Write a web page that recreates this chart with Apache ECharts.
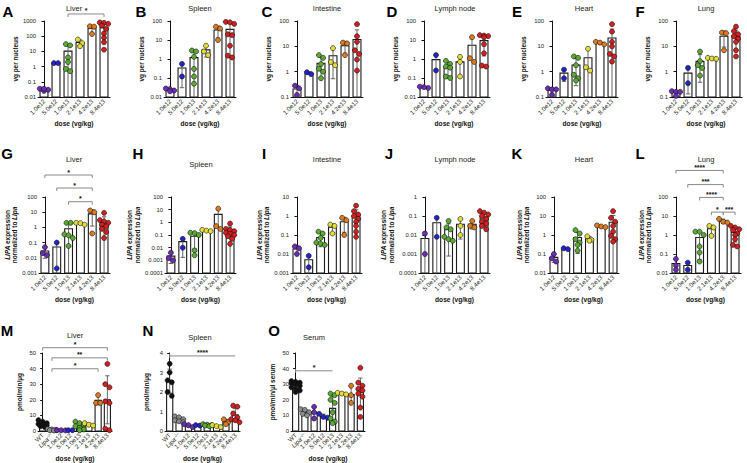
<!DOCTYPE html>
<html lang="en">
<head>
<meta charset="UTF-8">
<title>AAV dose panels</title>
<style>
  html, body { margin: 0; padding: 0; background: #fff; }
  #container { width: 747px; height: 463px; }
</style>
</head>
<body>
<div id="container"></div>
<script src="https://cdn.jsdelivr.net/npm/echarts@6/dist/echarts.min.js"></script>
<script type="text/javascript">

// categories
var doses = ['1.0e12', '5.0e12', '1.0e13', '2.1e13', '4.2e13', '8.4e13'];
var dosesAct = ['WT', 'Lipa-/-'].concat(doses);
var doseColors = ['#6b2cb8', '#2323c9', '#5aab33', '#e3dc3b', '#de7b1f', '#d31f1f'];
var actColors = ['#111111', '#8c8c8c'].concat(doseColors);

// A-F : vector genomes per nucleus (one array of points per dose)
var vgLiver = [[0.025, 0.03, 0.035, 0.035], [1.7, 1.7], [30, 25, 4, 2, 0.7, 0.5], [60, 35, 22], [450, 420, 140], [800, 750, 650, 500, 300, 150, 80, 40, 13]];
var vgSpleen = [[0.026, 0.028, 0.022, 0.02], [0.55, 0.12], [2.8, 2.5, 1.3, 0.3, 0.12, 0.05], [5, 2.5, 1.6], [50, 40, 10], [90, 85, 70, 20, 18, 5, 1.5, 1.2]];
var vgIntestine = [[0.28, 0.22, 0.12], [0.8, 0.95], [4.5, 3.5, 2, 1.3, 1, 0.55], [8.5, 2.4, 1.8], [14, 13, 4.5], [75, 25, 15, 7, 5, 3, 1.1]];
var vgLymph = [[0.03, 0.033, 0.035], [1.6, 0.25], [0.8, 0.55, 0.4, 0.35, 0.12, 0.1], [1.3, 0.7, 0.12], [14, 1.1, 0.7], [18, 17, 16, 14, 6, 2, 0.45, 0.4]];
var vgHeart = [[0.22, 0.2, 0.2, 0.12], [1.2, 0.55], [4, 3.5, 1.8, 0.75, 0.55, 0.45], [8, 1.5, 1.1], [15, 14, 12], [75, 38, 15, 10, 5, 4, 2.5]];
var vgLung = [[0.17, 0.16, 0.16, 0.11], [1.4, 0.35], [6.2, 2.6, 1.8, 1.4, 0.7], [3.5, 3.3, 3.2], [35, 33, 7], [60, 40, 30, 25, 20, 15, 7, 4]];

// G-L : LIPA expression normalized to Lipa
var lipaLiver = [[0.05, 0.02, 0.015], [0.1, 0.002], [2, 2, 0.35, 0.3, 0.2, 0.06], [2, 1.9, 1.5], [13, 10, 0.4], [9, 3, 2.5, 2, 1.5, 1.2, 0.8, 0.5, 0.2]];
var lipaSpleen = [[0.004, 0.0015, 0.001], [0.05, 0.01], [0.15, 0.14, 0.1, 0.006, 0.0025], [0.25, 0.22, 0.2], [12, 0.5, 0.3], [0.8, 0.3, 0.25, 0.2, 0.15, 0.12, 0.1, 0.08, 0.05, 0.02]];
var lipaIntestine = [[0.025, 0.02, 0.01], [0.008, 0.002], [0.15, 0.12, 0.07, 0.04, 0.035, 0.03], [0.35, 0.3, 0.12], [0.8, 0.6, 0.1], [3.5, 1.8, 1.2, 1, 0.7, 0.5, 0.3, 0.15, 0.08]];
var lipaLymph = [[0.012, 0.001], [0.08, 0.008], [0.055, 0.025, 0.02, 0.008, 0.006, 0.005], [0.07, 0.03, 0.01], [0.055, 0.03, 0.025], [0.18, 0.15, 0.12, 0.1, 0.07, 0.05, 0.04, 0.03, 0.02]];
var lipaHeart = [[0.1, 0.06, 0.04], [0.2, 0.18], [1.8, 1.2, 0.6, 0.4, 0.3, 0.15], [0.85, 0.55, 0.5], [3.2, 2.8, 2.6], [18, 8, 5, 3, 1.5, 0.9, 0.6, 0.45]];
var lipaLung = [[0.055, 0.025, 0.015], [0.035, 0.015], [1.5, 1.5, 1, 0.25, 0.12, 0.04], [3, 2.5, 0.9], [7, 5, 4.5], [3, 2.5, 2, 1.8, 1.2, 1, 0.6, 0.3, 0.25]];

// M-O : enzyme activity (WT, Lipa-/-, doses)
var actLiver = [[7, 6, 5, 4.5, 4, 3.5, 3, 2.5], [1.2, 1, 0.8, 0.5, 0.3], [0.5, 0.5, 0.4], [0.5, 0.5], [6, 5, 4, 3, 2, 1, 0.5], [5, 4, 3.5], [23, 18, 18], [43, 30, 28, 19, 18, 1.5, 0.5]];
var actSpleen = [[3.45, 3.0, 2.6, 2.5, 2.0, 1.8], [0.75, 0.7, 0.6, 0.55, 0.5, 0.45], [0.35, 0.3, 0.2], [0.3, 0.28], [0.35, 0.32, 0.3, 0.28, 0.25], [0.3, 0.25, 0.2], [0.6, 0.45, 0.35], [1.3, 1.25, 0.9, 0.7, 0.6, 0.55, 0.45]];
var actSerum = [[32, 31.5, 31, 30.5, 30, 29, 28, 27, 26, 25], [14, 13.5, 12, 11, 10], [15.5, 12, 8], [11, 9, 8.5], [24, 23, 20, 18, 12, 8, 6, 5], [24.5, 24, 23.5], [29, 23, 18], [40.5, 31, 29, 27, 26, 24, 22, 15, 9]];

// significance brackets: [from, to, y value, label]
var brA = [[2, 5, 2900, '*']];
var brG = [[0, 4, 2800, '*'], [1, 4, 390, '*'], [2, 4, 49, '*']];
var brL = [[0, 4, 2500, '****'], [1, 4, 450, '***'], [2, 4, 95, '****'], [3, 4, 16, '*'], [4, 5, 16, '***']];
var brM = [[0, 7, 53.4, '*'], [1, 7, 46.9, '**'], [1, 6, 39.9, '*']];
var brN = [[0, 7, 3.85, '****']];
var brO = [[0, 4, 38.6, '*']];

var FONT = 'Liberation Sans';
var vgName = 'vg per nucleus';
var lipaName = '{i|LIPA} expression\nnormalized to {i|Lipa}';

var panels = [
  {letter: 'A', title: 'Liver', data: vgLiver, log: true, min: 0.01, max: 1000, yName: vgName, br: brA},
  {letter: 'B', title: 'Spleen', data: vgSpleen, log: true, min: 0.01, max: 100, yName: vgName},
  {letter: 'C', title: 'Intestine', data: vgIntestine, log: true, min: 0.1, max: 100, yName: vgName},
  {letter: 'D', title: 'Lymph node', data: vgLymph, log: true, min: 0.01, max: 100, yName: vgName},
  {letter: 'E', title: 'Heart', data: vgHeart, log: true, min: 0.1, max: 100, yName: vgName},
  {letter: 'F', title: 'Lung', data: vgLung, log: true, min: 0.1, max: 100, yName: vgName},
  {letter: 'G', title: 'Liver', data: lipaLiver, log: true, min: 0.001, max: 100, yName: lipaName, br: brG},
  {letter: 'H', title: 'Spleen', data: lipaSpleen, log: true, min: 0.0001, max: 100, yName: lipaName},
  {letter: 'I', title: 'Intestine', data: lipaIntestine, log: true, min: 0.001, max: 10, yName: lipaName},
  {letter: 'J', title: 'Lymph node', data: lipaLymph, log: true, min: 0.0001, max: 1, yName: lipaName},
  {letter: 'K', title: 'Heart', data: lipaHeart, log: true, min: 0.01, max: 100, yName: lipaName},
  {letter: 'L', title: 'Lung', data: lipaLung, log: true, min: 0.01, max: 100, yName: lipaName, br: brL},
  {letter: 'M', title: 'Liver', data: actLiver, log: false, min: 0, max: 50, step: 10, yName: 'pmol/min/µg', br: brM},
  {letter: 'N', title: 'Spleen', data: actSpleen, log: false, min: 0, max: 4, step: 1, yName: 'pmol/min/µg', br: brN, flat: true},
  {letter: 'O', title: 'Serum', data: actSerum, log: false, min: 0, max: 50, step: 10, yName: 'pmol/min/µl serum', br: brO, flat: true}
];

// layout: plot boxes, title and letter positions
var boxes = [
  [38, 21, 72, 76], [164, 21, 72, 76], [291, 21, 72, 76], [418, 21, 72, 76], [546, 21, 72, 76], [670, 21, 72, 76],
  [39, 197, 71, 76], [165, 197, 71, 76], [291, 197, 71, 76], [419, 197, 71, 76], [548, 197, 71, 76], [670, 197, 71, 76],
  [38, 353, 74, 78], [165, 353, 75, 78], [291, 353, 74, 78]
];
var titlePos = [[74, 8], [200, 8], [327, 8], [455, 8], [584, 8], [706, 8],
  [74, 159], [201, 164], [327, 159], [455, 159], [584, 159], [706, 159],
  [75, 335.5], [200, 337], [314, 337]];
var letterPos = [[8, 11], [141, 11], [267, 11], [392, 11], [517, 11], [640, 11],
  [7, 153], [138, 153], [264, 153], [389, 153], [517, 153], [640, 153],
  [7, 330], [148, 330], [274, 330]];

function mean(a) {
  var s = 0;
  for (var i = 0; i < a.length; i++) s += a[i];
  return s / a.length;
}
function sd(a) {
  var m = mean(a), s = 0;
  for (var i = 0; i < a.length; i++) s += (a[i] - m) * (a[i] - m);
  return a.length > 1 ? Math.sqrt(s / (a.length - 1)) : 0;
}

// put nearby points side by side, like a column scatter
function spreadOffsets(vals, toPx) {
  var idx = vals.map(function (v, i) { return i; });
  idx.sort(function (a, b) { return vals[b] - vals[a]; });
  var out = [];
  var row = [];
  function flush() {
    for (var k = 0; k < row.length; k++) out[row[k]] = k - (row.length - 1) / 2;
    row = [];
  }
  idx.forEach(function (i) {
    if (row.length && (Math.abs(toPx(vals[row[0]]) - toPx(vals[i])) > 4 || row.length >= 3)) flush();
    row.push(i);
  });
  flush();
  return out;
}

var grids = [], xAxes = [], yAxes = [], series = [], graphics = [];

panels.forEach(function (p, i) {
  var box = boxes[i];
  var cats = p.data.length === 8 ? dosesAct : doses;
  var colors = p.data.length === 8 ? actColors : doseColors;
  var n = cats.length;
  var catW = box[2] / n;
  var row3 = i >= 12;

  grids.push({left: box[0], top: box[1], width: box[2], height: box[3], containLabel: false});

  xAxes.push({
    type: 'category', gridIndex: i, data: cats,
    name: 'dose (vg/kg)', nameLocation: 'middle', nameGap: row3 ? 24 : 23,
    nameTextStyle: {fontFamily: FONT, fontSize: 6.6, fontWeight: 'bold', color: '#111'},
    axisLine: {lineStyle: {color: '#111', width: 1}},
    axisTick: {alignWithLabel: true, length: 2.5, lineStyle: {color: '#111'}},
    axisLabel: {
      interval: 0, rotate: 45, margin: 3, fontFamily: FONT, fontSize: 6.2, color: '#222',
      formatter: function (v) { return v === 'Lipa-/-' ? '{i|Lipa}{s|−/−}' : v; },
      rich: {i: {fontStyle: 'italic', fontSize: 6.2, fontFamily: FONT, color: '#222'},
             s: {fontSize: 4.2, fontFamily: FONT, color: '#222', verticalAlign: 'top'}}
    }
  });
  xAxes.push({type: 'value', gridIndex: i, min: -0.5, max: n - 0.5, show: false});

  var yAx = {
    type: p.log ? 'log' : 'value', gridIndex: i, min: p.min, max: p.max,
    name: p.yName, nameLocation: 'middle', nameGap: i >= 6 && i < 12 ? 17 : (row3 ? 15 : 19),
    nameTextStyle: {fontFamily: FONT, fontSize: 6.4, fontWeight: 'bold', color: '#111', lineHeight: 7.5,
      rich: {i: {fontFamily: FONT, fontSize: 6.4, fontWeight: 'bold', fontStyle: 'italic', color: '#111'}}},
    axisLine: {show: true, lineStyle: {color: '#111', width: 1}},
    axisTick: {show: true, length: 2.5, lineStyle: {color: '#111'}},
    splitLine: {show: false},
    axisLabel: {
      fontFamily: FONT, fontSize: 5.9, color: '#222', margin: 2,
      formatter: function (v) { return String(Number(Number(v).toPrecision(3))); }
    }
  };
  if (!p.log) yAx.interval = p.step;
  yAxes.push(yAx);

  var h = box[3];
  var toPx = p.log
    ? function (v) { return (Math.log10(v) - Math.log10(p.min)) / (Math.log10(p.max) - Math.log10(p.min)) * h; }
    : function (v) { return (v - p.min) / (p.max - p.min) * h; };

  var barData = [], errData = [], dotData = [];
  p.data.forEach(function (pts, c) {
    barData.push([c, mean(pts)]);
    errData.push([c, mean(pts), sd(pts)]);
    var offs = spreadOffsets(pts, toPx);
    pts.forEach(function (v, k) {
      dotData.push({value: [c + offs[k] * 4.2 / catW, v], itemStyle: {color: colors[c]}});
    });
  });

  // bars
  series.push({
    type: 'custom', xAxisIndex: 2 * i + 1, yAxisIndex: i, z: 2, clip: false, silent: true,
    encode: {x: 0, y: 1},
    renderItem: function (params, api) {
      var cs = params.coordSys;
      var w = catW * 0.66;
      var pt = api.coord([api.value(0), api.value(1)]);
      var base = cs.y + cs.height;
      var top = Math.max(pt[1], cs.y);
      return {type: 'rect', shape: {x: pt[0] - w / 2, y: top, width: w, height: base - top},
        style: {fill: '#fff', stroke: '#1a1a1a', lineWidth: 1.1}};
    },
    data: barData
  });

  // error bars (mean +/- SD)
  series.push({
    type: 'custom', xAxisIndex: 2 * i + 1, yAxisIndex: i, z: 3, clip: false, silent: true,
    encode: {x: 0, y: 1},
    renderItem: function (params, api) {
      var cs = params.coordSys;
      var x = api.value(0), m = api.value(1), s = api.value(2);
      var base = cs.y + cs.height;
      function py(v) {
        if (v <= p.min) return base;
        return Math.min(base, Math.max(cs.y, api.coord([x, v])[1]));
      }
      var px = api.coord([x, m])[0];
      var yHi = py(m + s), yLo = py(m - s);
      var cap = 2.2;
      var st = {stroke: '#555', lineWidth: 0.9};
      var kids = [
        {type: 'line', shape: {x1: px, y1: yHi, x2: px, y2: yLo}, style: st},
        {type: 'line', shape: {x1: px - cap, y1: yHi, x2: px + cap, y2: yHi}, style: st}
      ];
      if (m - s > p.min) kids.push({type: 'line', shape: {x1: px - cap, y1: yLo, x2: px + cap, y2: yLo}, style: st});
      return {type: 'group', children: kids};
    },
    data: errData
  });

  // individual animals
  series.push({
    type: 'scatter', xAxisIndex: 2 * i + 1, yAxisIndex: i, z: 4, silent: true,
    symbolSize: 5,
    itemStyle: {borderColor: '#111', borderWidth: 0.6, opacity: 1},
    data: dotData
  });

  // significance brackets
  if (p.br) {
    series.push({
      type: 'custom', xAxisIndex: 2 * i + 1, yAxisIndex: i, z: 5, clip: false, silent: true,
      encode: {x: [0, 1], y: 2},
      renderItem: function (params, api) {
        var b = p.br[params.dataIndex];
        var a = api.coord([b[0], b[2]]), c = api.coord([b[1], b[2]]);
        var y = a[1];
        var st = {stroke: '#8a8a8a', lineWidth: 1};
        var kids = [{type: 'line', shape: {x1: a[0], y1: y, x2: c[0], y2: y}, style: st}];
        if (p.flat) {
          kids.push({type: 'line', shape: {x1: a[0], y1: y - 2, x2: a[0], y2: y + 2}, style: st});
        } else {
          kids.push({type: 'line', shape: {x1: a[0], y1: y, x2: a[0], y2: y + 3}, style: st});
          kids.push({type: 'line', shape: {x1: c[0], y1: y, x2: c[0], y2: y + 3}, style: st});
        }
        kids.push({type: 'text', style: {text: b[3], x: (a[0] + c[0]) / 2, y: y + 0.5, align: 'center',
          verticalAlign: 'bottom', fontFamily: FONT, fontSize: 7, lineHeight: 7, fontWeight: 'bold', fill: '#111'}});
        return {type: 'group', children: kids};
      },
      data: p.br.map(function (b) { return [b[0], b[1], b[2]]; })
    });
  }

  graphics.push({type: 'text', x: titlePos[i][0], y: titlePos[i][1], silent: true,
    style: {text: p.title, align: 'center', verticalAlign: 'middle', fontFamily: FONT, fontSize: 7.5, fill: '#222'}});
  graphics.push({type: 'text', x: letterPos[i][0], y: letterPos[i][1], silent: true,
    style: {text: p.letter, align: 'center', verticalAlign: 'middle', fontFamily: FONT, fontSize: 15, fontWeight: 'bold', fill: '#000'}});
});

var dom = document.getElementById('container');
var myChart = echarts.init(dom, null, {renderer: 'svg'});
myChart.setOption({
  animation: false,
  backgroundColor: '#fff',
  grid: grids,
  xAxis: xAxes,
  yAxis: yAxes,
  series: series,
  graphic: graphics
});
</script>
</body>
</html>
